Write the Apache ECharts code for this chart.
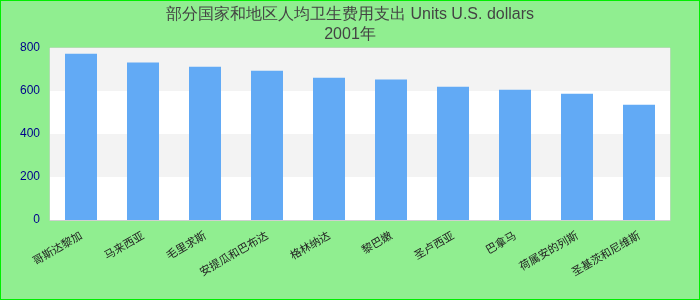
<!DOCTYPE html>
<html>
<head>
<meta charset="utf-8">
<script src="https://cdn.jsdelivr.net/npm/echarts@6/dist/echarts.min.js"></script>
<style>
html,body{margin:0;padding:0;background:#90ee90;}
#c{width:700px;height:300px;box-sizing:border-box;border:1px solid #00ee00;}
</style>
</head>
<body>
<div id="c"></div>
<script>
const titleLine1 = "部分国家和地区人均卫生费用支出 Units U.S. dollars";
const titleLine2 = "2001年";
const categories = ["哥斯达黎加","马来西亚","毛里求斯","安提瓜和巴布达","格林纳达","黎巴嫩","圣卢西亚","巴拿马","荷属安的列斯","圣基茨和尼维斯"];
const values = [773, 732, 713, 694, 662, 653, 620, 606, 587, 536];
const yTicks = [0, 200, 400, 600, 800];

const chart = echarts.init(document.getElementById('c'), null, {renderer:'canvas'});
chart.setOption({
  backgroundColor: '#90ee90',
  animation: false,
  title: {
    text: titleLine1 + "\n" + titleLine2,
    left: 'center',
    top: -1,
    textStyle: {fontFamily: 'Liberation Sans, Arial, sans-serif', fontSize: 16, fontWeight: 'normal', color: '#444', lineHeight: 20}
  },
  grid: {left: 49, right: 29, top: 47, bottom: 79, show: true, backgroundColor: '#ffffff', borderColor: '#d0d0d0', borderWidth: 1},
  xAxis: {
    type: 'category',
    data: categories,
    axisLine: {show: true, lineStyle: {color: '#d0d0d0'}},
    axisTick: {show: false},
    axisLabel: {rotate: 30, fontSize: 11, color: '#222', margin: 14, interval: 0, fontFamily: 'Noto Sans CJK SC, sans-serif'}
  },
  yAxis: {
    type: 'value',
    min: yTicks[0],
    max: yTicks[yTicks.length - 1],
    interval: 200,
    axisLine: {show: false},
    axisTick: {show: false},
    splitLine: {show: false},
    splitArea: {show: true, areaStyle: {color: ['#ffffff', '#f3f3f3']}},
    axisLabel: {fontSize: 12, color: '#00008b', margin: 10, fontFamily: 'Liberation Sans, Arial, sans-serif'}
  },
  series: [{
    type: 'bar',
    data: values,
    barWidth: 32,
    itemStyle: {color: '#62aaf5'}
  }]
});
</script>
</body>
</html>
